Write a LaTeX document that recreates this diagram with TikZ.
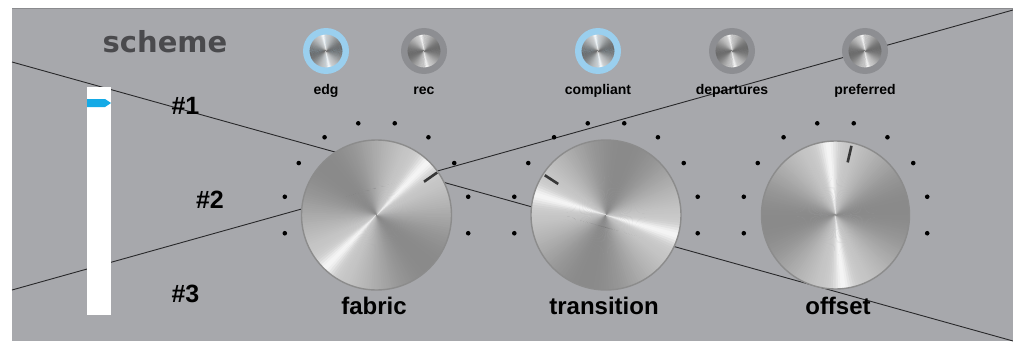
\documentclass[tikz,border=0pt]{standalone}
\usepackage{fontspec}
\setmainfont{Liberation Sans}
\newfontfamily\titlefont{DejaVu Sans}

\definecolor{panel}{RGB}{167,168,172}
\definecolor{paneledge}{RGB}{138,139,142}
\definecolor{wirecol}{RGB}{40,40,42}
\definecolor{sliderblue}{RGB}{20,170,230}
\definecolor{ringblue}{RGB}{154,207,238}
\definecolor{ringgray}{RGB}{141,142,146}
\definecolor{rimcol}{RGB}{140,140,140}
\definecolor{titlecol}{RGB}{74,74,77}
\definecolor{pointercol}{RGB}{55,55,55}

% brushed-metal disc: centre x, centre y, radius, angle of the bright streak
\newcommand\metalknob[4]{%
  \foreach \k in {0,...,179}{%
    \pgfmathsetmacro\a{2*\k}%
    \pgfmathsetmacro\ph{mod(\a-#4+720,180)}%
    \pgfmathsetmacro\dd{min(\ph,180-\ph)}%
    \pgfmathsetmacro\p{100*(0.67+0.13*cos(2*(\a-#4))+0.16*exp(-min(\dd*\dd/50,9)))}%
    \fill[white!\p!black] (#1,#2) -- ++(\a:#3) arc[start angle=\a,end angle=\a+2.6,radius=#3] -- cycle;
  }%
  \draw[knobrim] (#1,#2) circle[radius=#3];
}

% smaller disc with stronger contrast
\newcommand\metalbutton[3]{%
  \foreach \k in {0,...,179}{%
    \pgfmathsetmacro\a{2*\k}%
    \pgfmathsetmacro\ph{mod(\a-#3+720,180)}%
    \pgfmathsetmacro\dd{min(\ph,180-\ph)}%
    \pgfmathsetmacro\p{100*(0.62+0.2*cos(2*(\a-#3))+0.16*exp(-min(\dd*\dd/50,9)))}%
    \fill[white!\p!black] (#1,#2) -- ++(\a:16.3) arc[start angle=\a,end angle=\a+2.6,radius=16.3] -- cycle;
  }%
}

\tikzset{
  wire/.style={draw=wirecol, line width=0.9},
  knobrim/.style={draw=rimcol, line width=1.4},
  tickdot/.style={fill=black},
  pointer/.style={draw=pointercol, line width=2.6},
  smalllabel/.style={font=\bfseries\fontsize{14}{16}\selectfont, anchor=base, inner sep=0},
  biglabel/.style={font=\bfseries\fontsize{24}{28}\selectfont, anchor=base, inner sep=0},
  marklabel/.style={font=\bfseries\fontsize{25}{28}\selectfont, anchor=base, inner sep=0},
}

\begin{document}
\begin{tikzpicture}[x=1pt,y=1pt]
\useasboundingbox (0,0) rectangle (1013,341);
\fill[white] (0,0) rectangle (1013,341);

% panel
\fill[panel] (12,0) rectangle (1013,332);
\draw[paneledge, line width=1] (12,332) -- (1013,332);

% crossing wires
\coordinate (wAstart) at (12,279);
\coordinate (wAend) at (1013,0);
\coordinate (wBstart) at (12,51);
\coordinate (wBend) at (1013,331);
\draw[wire] (wAstart) -- (wAend);
\draw[wire] (wBstart) -- (wBend);

% title
\node[font=\titlefont\bfseries\fontsize{29}{32}\selectfont, text=titlecol, anchor=base, inner sep=0] (title) at (165,288) {scheme};

% slider
\node[fill=white, minimum width=24, minimum height=228, inner sep=0, outer sep=0] (slider) at (99,140) {};
\fill[sliderblue] (87,242) -- (105,242) -- (111,238) -- (105,234) -- (87,234) -- cycle;

\node[marklabel] (m1) at (185.5,227) {\#1};
\node[marklabel] (m2) at (210,133) {\#2};
\node[marklabel] (m3) at (185.5,39) {\#3};

% small buttons
\foreach \x/\ring/\name in {326/ringblue/edg, 424/ringgray/rec, 598/ringblue/compliant, 732/ringgray/departures, 865/ringgray/preferred}{%
  \fill[\ring] (\x,290) circle[radius=23];
  \metalbutton{\x}{290}{100}
  \node[smalllabel] (lab-\name) at (\x,247) {\name};
}

% tick dots round the large knobs
\foreach \cx in {376.5,606,835.5}{%
  \foreach \k in {0,...,9}{%
    \fill[tickdot] (\cx,126) ++({-11.25+22.5*\k}:93.5) circle[radius=2.3];
  }%
}

% large knobs
\coordinate (kfab) at (376.5,126);
\coordinate (ktra) at (606,126);
\coordinate (koff) at (835.5,126);
\metalknob{376.5}{126}{75}{45}
\metalknob{606}{126}{75}{163}
\metalknob{835.5}{126}{74}{95}

\draw[pointer] ([shift={(35:58)}]kfab) -- ([shift={(35:74)}]kfab);
\draw[pointer] ([shift={(147:57)}]ktra) -- ([shift={(147:73)}]ktra);
\draw[pointer] ([shift={(77:54)}]koff) -- ([shift={(77:71)}]koff);

\node[biglabel] (lab-fabric) at (374,27) {fabric};
\node[biglabel] (lab-transition) at (604,27) {transition};
\node[biglabel] (lab-offset) at (838,27) {offset};
\end{tikzpicture}
\end{document}
